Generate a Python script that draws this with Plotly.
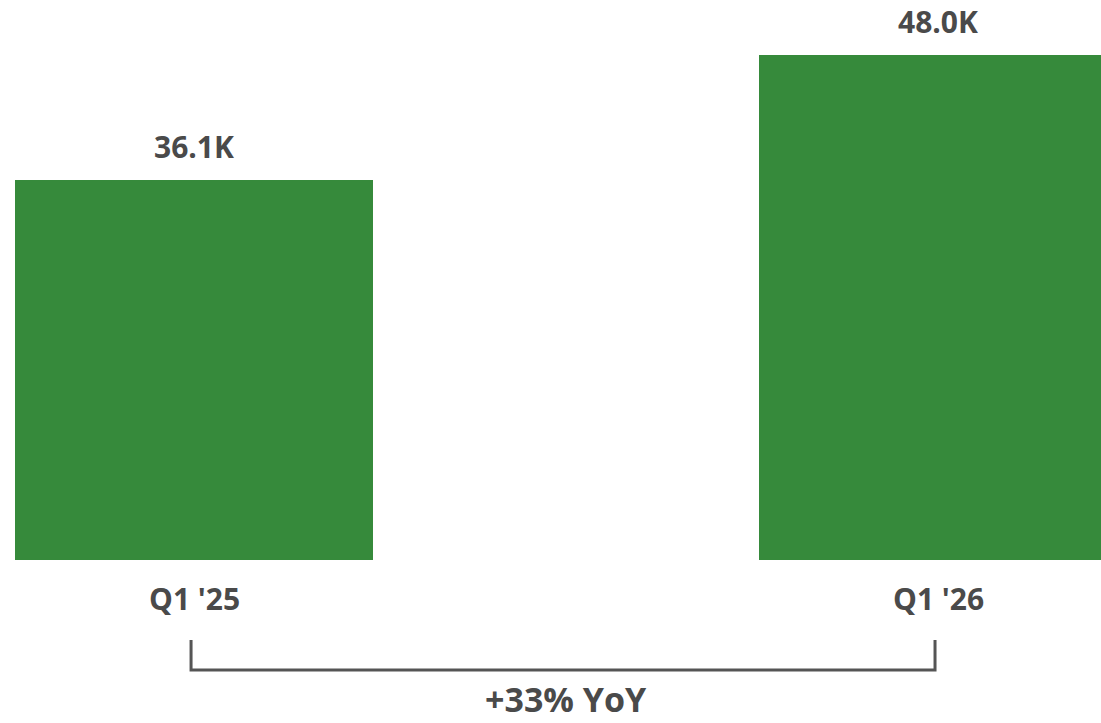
import plotly.graph_objects as go

categories = ["Q1 '25", "Q1 '26"]
values = [36.1, 48.0]
value_labels = ["36.1K", "48.0K"]
growth_label = "+33% YoY"

BAR_COLOR = "#368A3B"
TEXT_COLOR = "#4A4A4A"
FONT = "Open Sans"

x_pos = list(range(len(categories)))

fig = go.Figure()
fig.add_trace(go.Bar(
    x=x_pos, y=values, width=0.481,
    marker=dict(color=BAR_COLOR, line=dict(width=0)),
    hoverinfo="skip",
))

# value labels above bars
for xi, v, lab in zip(x_pos, values, value_labels):
    fig.add_annotation(x=xi, y=v, xref="x", yref="y", text=f"<b>{lab}</b>",
                       showarrow=False, yanchor="middle", yshift=34,
                       font=dict(family=FONT, size=30, color=TEXT_COLOR))
# category labels below bars
for xi, c in zip(x_pos, categories):
    fig.add_annotation(x=xi, y=0, xref="x", yref="y", text=f"<b>{c}</b>",
                       showarrow=False, yanchor="middle", yshift=-38,
                       font=dict(family=FONT, size=30, color=TEXT_COLOR))

# bracket
y_top = -7.6
y_bot = -10.46
xl, xr = -0.004, 0.996
fig.add_shape(type="path",
              path=f"M {xl} {y_top} L {xl} {y_bot} L {xr} {y_bot} L {xr} {y_top}",
              xref="x", yref="y",
              line=dict(color="#555555", width=3))

fig.add_annotation(x=0.5, y=y_bot, xref="x", yref="y", text=f"<b>{growth_label}</b>",
                   showarrow=False, yanchor="middle", yshift=-29,
                   font=dict(family=FONT, size=34, color=TEXT_COLOR))

fig.update_layout(
    width=1101, height=723,
    margin=dict(l=0, r=0, t=0, b=0),
    plot_bgcolor="white", paper_bgcolor="white",
    showlegend=False,
    xaxis=dict(range=[-0.2608, 1.2191], visible=False, fixedrange=True),
    yaxis=dict(range=[-15.49, 53.23], visible=False, fixedrange=True),
    bargap=0,
)

fig.write_html("out.html", config={"displayModeBar": False})
